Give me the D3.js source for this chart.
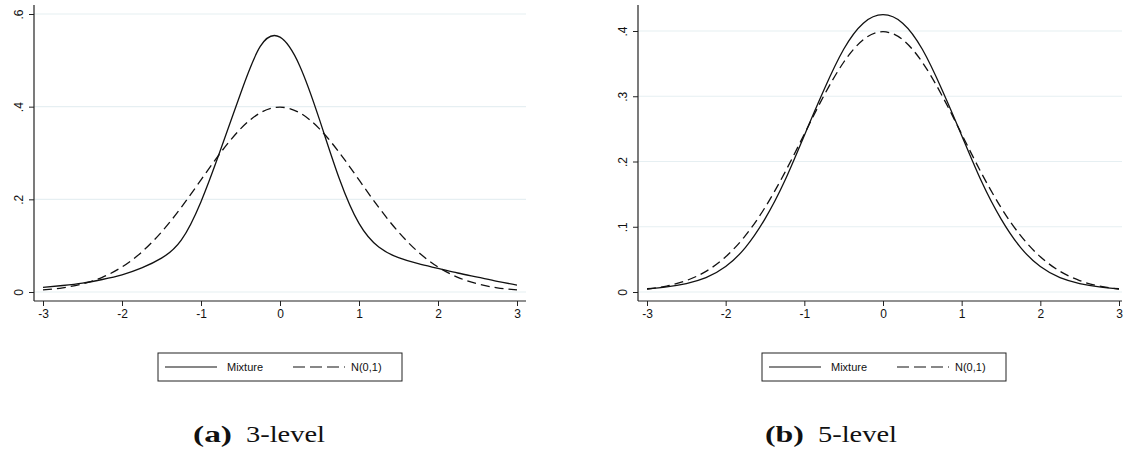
<!DOCTYPE html>
<html>
<head>
<meta charset="utf-8">
<script src="https://cdn.jsdelivr.net/npm/d3@7"></script>
<style>
  body { margin: 0; background: #fff; }
  svg { display: block; }
  .tick text { font-family: "Liberation Sans", Arial, sans-serif; font-size: 12px; fill: #111; }
  .legenda text { font-family: "Liberation Sans", Arial, sans-serif; font-size: 11px; fill: #111; }
  .legenda-titulo { font-family: "Liberation Serif", "DejaVu Serif", serif; font-size: 23px; fill: #111; }
</style>
</head>
<body>
<svg id="grafico"></svg>
<script>
// eixo x comum
var xTicks = [-3, -2, -1, 0, 1, 2, 3];
var xTickLabels = ['-3', '-2', '-1', '0', '1', '2', '3'];

// N(0,1)
var xNormal = [-3, -2.75, -2.5, -2.25, -2, -1.75, -1.5, -1.25, -1, -0.75, -0.5, -0.25, 0,
               0.25, 0.5, 0.75, 1, 1.25, 1.5, 1.75, 2, 2.25, 2.5, 2.75, 3];
var yNormal = [0.0044, 0.0091, 0.0175, 0.0317, 0.0540, 0.0863, 0.1295, 0.1826, 0.2420, 0.3011, 0.3521, 0.3867, 0.3989,
               0.3867, 0.3521, 0.3011, 0.2420, 0.1826, 0.1295, 0.0863, 0.0540, 0.0317, 0.0175, 0.0091, 0.0044];

// painel (a): mistura 3 niveis
var xMistura3 = [-3, -2.75, -2.5, -2.25, -2, -1.75, -1.5, -1.25, -1, -0.75, -0.5, -0.25, 0,
                 0.25, 0.5, 0.75, 1, 1.25, 1.5, 1.75, 2, 2.25, 2.5, 2.75, 3];
var yMistura3 = [0.010, 0.014, 0.019, 0.027, 0.037, 0.052, 0.073, 0.112, 0.195, 0.308, 0.428, 0.530, 0.550,
                 0.488, 0.372, 0.245, 0.148, 0.097, 0.074, 0.061, 0.051, 0.041, 0.032, 0.023, 0.015];
var yTicks3 = [0, 0.2, 0.4, 0.6];
var yTickLabels3 = ['0', '.2', '.4', '.6'];

// painel (b): mistura 5 niveis
var xMistura5 = [-3, -2.75, -2.5, -2.25, -2, -1.75, -1.5, -1.25, -1, -0.75, -0.5, -0.25, 0,
                 0.25, 0.5, 0.75, 1, 1.25, 1.5, 1.75, 2, 2.25, 2.5, 2.75, 3];
var yMistura5 = [0.005, 0.008, 0.013, 0.022, 0.039, 0.068, 0.112, 0.170, 0.240, 0.310, 0.372, 0.412, 0.425,
                 0.412, 0.372, 0.310, 0.240, 0.170, 0.112, 0.068, 0.039, 0.022, 0.013, 0.008, 0.005];
var yTicks5 = [0, 0.1, 0.2, 0.3, 0.4];
var yTickLabels5 = ['0', '.1', '.2', '.3', '.4'];

var legendaNomes = ['Mixture', 'N(0,1)'];
var titulos = [['(a)', '3-level'], ['(b)', '5-level']];

var svg = d3.select('#grafico').attr('width', 1124).attr('height', 450);

function painel(p) {
  var g = svg.append('g');

  var x = d3.scaleLinear().domain([-3, 3]).range([p.x0, p.x1]);
  var y = d3.scaleLinear().domain([0, p.yMax]).range([292, p.yTopo]);

  // linhas de grade
  g.selectAll('.grade')
    .data(p.yTicks)
    .enter()
      .append('line')
      .attr('x1', p.eixoX)
      .attr('x2', p.eixoFim)
      .attr('y1', d => y(d))
      .attr('y2', d => y(d))
      .attr('stroke', '#e6eff2')
      .attr('stroke-width', 1.2);

  // eixo x
  var eixoX = g.append('g')
    .attr('transform', 'translate(0,301)')
    .call(d3.axisBottom(x).tickValues(xTicks).tickSize(5).tickPadding(3)
      .tickFormat((d, i) => xTickLabels[i]));
  eixoX.select('.domain').remove();
  eixoX.selectAll('.tick line').attr('stroke', '#222');

  // eixo y
  var eixoY = g.append('g')
    .attr('transform', 'translate(' + p.eixoX + ',0)')
    .call(d3.axisLeft(y).tickValues(p.yTicks).tickSize(5)
      .tickFormat((d, i) => p.yTickLabels[i]));
  eixoY.select('.domain').remove();
  eixoY.selectAll('.tick line').attr('stroke', '#222');
  eixoY.selectAll('.tick text')
    .attr('x', null).attr('dy', null)
    .attr('text-anchor', 'middle')
    .attr('transform', 'translate(-11,0) rotate(-90)');

  g.append('line').attr('x1', p.eixoX).attr('x2', p.eixoFim).attr('y1', 301).attr('y2', 301)
    .attr('stroke', '#222').attr('stroke-width', 1.2);
  g.append('line').attr('x1', p.eixoX).attr('x2', p.eixoX).attr('y1', 5).attr('y2', 301)
    .attr('stroke', '#222').attr('stroke-width', 1.2);

  var linha = d3.line().x(d => x(d[0])).y(d => y(d[1])).curve(d3.curveNatural);

  g.append('path')
    .datum(d3.zip(xNormal, yNormal))
    .attr('d', linha)
    .attr('fill', 'none')
    .attr('stroke', '#111')
    .attr('stroke-width', 1.3)
    .attr('stroke-dasharray', '9,5');

  g.append('path')
    .datum(d3.zip(p.xMistura, p.yMistura))
    .attr('d', linha)
    .attr('fill', 'none')
    .attr('stroke', '#111')
    .attr('stroke-width', 1.3);

  // legenda
  var leg = g.append('g').classed('legenda', true);
  leg.append('rect')
    .attr('x', p.legX).attr('y', 353).attr('width', 244).attr('height', 28)
    .attr('fill', '#fff').attr('stroke', '#222').attr('stroke-width', 1);
  leg.append('line')
    .attr('x1', p.legX + 7).attr('x2', p.legX + 59).attr('y1', 367).attr('y2', 367)
    .attr('stroke', '#111').attr('stroke-width', 1.2);
  leg.append('text').text(legendaNomes[0]).attr('x', p.legX + 69).attr('y', 371);
  leg.append('line')
    .attr('x1', p.legX + 135).attr('x2', p.legX + 187).attr('y1', 367).attr('y2', 367)
    .attr('stroke', '#111').attr('stroke-width', 1.2).attr('stroke-dasharray', '12,5');
  leg.append('text').text(legendaNomes[1]).attr('x', p.legX + 193).attr('y', 371);

  // subtitulo
  g.append('text').classed('legenda-titulo', true)
    .attr('x', p.titX).attr('y', 442)
    .attr('font-weight', 'bold')
    .attr('textLength', 39).attr('lengthAdjust', 'spacingAndGlyphs')
    .text(titulos[p.i][0]);
  g.append('text').classed('legenda-titulo', true)
    .attr('x', p.titX + 53).attr('y', 442)
    .attr('textLength', 79).attr('lengthAdjust', 'spacingAndGlyphs')
    .text(titulos[p.i][1]);
}

painel({ i: 0, x0: 43, x1: 517, eixoX: 34, eixoFim: 526, yMax: 0.6, yTopo: 14,
         yTicks: yTicks3, yTickLabels: yTickLabels3, xMistura: xMistura3, yMistura: yMistura3,
         legX: 158, titX: 193 });
painel({ i: 1, x0: 647, x1: 1119, eixoX: 638, eixoFim: 1122, yMax: 0.4, yTopo: 31,
         yTicks: yTicks5, yTickLabels: yTickLabels5, xMistura: xMistura5, yMistura: yMistura5,
         legX: 762, titX: 765 });
</script>
</body>
</html>
